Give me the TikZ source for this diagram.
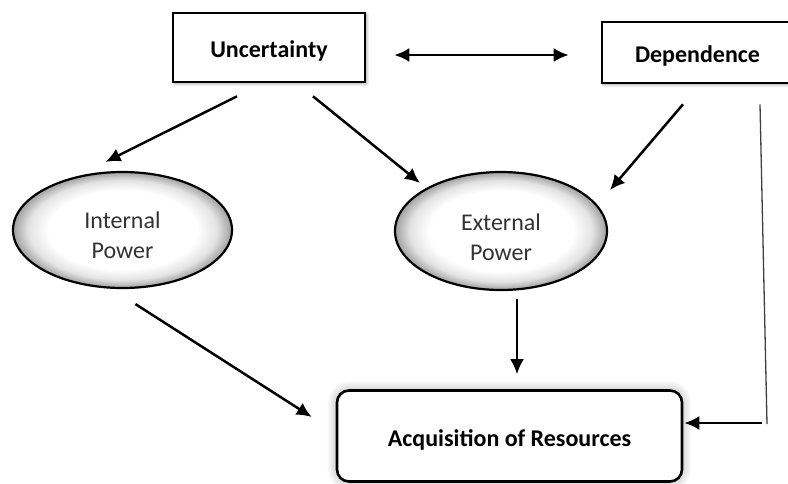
\documentclass[tikz,border=0pt]{standalone}
\usepackage{fontspec}
\setmainfont{Carlito}
\usetikzlibrary{arrows.meta,calc,shadows.blur,shapes.geometric}
\pgfdeclareradialshading{ellshade}{\pgfpoint{0bp}{0bp}}{color(0bp)=(white); color(17bp)=(white); color(21.5bp)=(gray!22); color(25bp)=(gray!75); color(50bp)=(gray!75)}
\tikzset{
  sqbox/.style={draw=black, line width=2.6pt, fill=white, minimum width=#1, font=\fontsize{24}{29}\selectfont\bfseries, inner sep=0pt,
    text height=20pt, text depth=0pt,
    blur shadow={shadow xshift=1.5pt, shadow yshift=-1.5pt, shadow blur steps=6, shadow blur radius=3pt, shadow opacity=40}},
  ell/.style={ellipse, draw=black, line width=2.2pt, shade, shading=ellshade, inner sep=0pt},
  elltext/.style={align=center, text=black!80, font=\fontsize{24}{30}\selectfont, inner sep=0pt},
  arr/.style={line width=2.5pt, -{Latex[length=15pt,width=14pt]}},
  darr/.style={line width=2.5pt, {Latex[length=15pt,width=14pt]}-{Latex[length=15pt,width=14pt]}},
  thin line/.style={line width=1.3pt, draw=black!75}
}
\begin{document}
\begin{tikzpicture}[x=1pt,y=-1pt]
\useasboundingbox (0,0) rectangle (788,483);
\begin{scope}
\clip (0,0) rectangle (788,483);
\node[sqbox=192pt, minimum height=69pt] (unc) at (269,47.5) {Uncertainty};
\node[sqbox=192pt, minimum height=61pt, text width=192pt, align=left] (dep) at (698,52.5) {\hspace*{33pt}Dependence};
\node[ell, minimum width=219pt, minimum height=116pt] (int) at (122.5,230) {};
\node[elltext] (intt) at ([yshift=-5pt]int.center) {Internal\\Power};
\node[ell, minimum width=212pt, minimum height=118pt] (ext) at (501,231) {};
\node[elltext] (extt) at ([yshift=-6pt]ext.center) {External\\Power};
\node[draw=black, line width=2.6pt, rounded corners=12pt, fill=white, minimum width=345pt, minimum height=91pt, inner sep=0pt,
  font=\fontsize{24}{29}\selectfont\bfseries, text height=20pt, text depth=0pt,
  blur shadow={shadow xshift=0pt, shadow yshift=0pt, shadow blur steps=10, shadow blur radius=10pt, shadow opacity=35}] (acq) at (509.5,436) {Acquisition of Resources};
\end{scope}
% connector end points
\coordinate (u1) at ([xshift=-32pt,yshift=-13pt]unc.south);
\coordinate (i1) at ([xshift=-17pt,yshift=9pt]int.north);
\coordinate (u2) at ([xshift=44pt,yshift=-13pt]unc.south);
\coordinate (e1) at ([xshift=-81pt,yshift=48pt]ext.center);
\coordinate (d1) at ([xshift=-15pt,yshift=-20pt]dep.south);
\coordinate (e2) at ([xshift=109pt,yshift=41pt]ext.center);
\coordinate (i2) at ([xshift=13pt,yshift=-15pt]int.south);
\coordinate (a1) at ([xshift=-24pt,yshift=19pt]acq.west);
\coordinate (e3) at ([xshift=16pt,yshift=-8pt]ext.south);
\coordinate (a2) at ([xshift=7.5pt,yshift=15pt]acq.north);
\coordinate (u3) at ([xshift=28pt,yshift=-7.5pt]unc.east);
\coordinate (d2) at ([xshift=-32pt,yshift=-2.5pt]dep.west);
\coordinate (d3) at ([xshift=62pt,yshift=-20pt]dep.south);
\coordinate (bend) at (767,424);
\coordinate (b2) at (762,423);
\coordinate (a3) at ([xshift=1pt,yshift=13pt]acq.east);
\draw[darr] (u3) -- (d2);
\draw[arr] (u1) -- (i1);
\draw[arr] (u2) -- (e1);
\draw[arr] (d1) -- (e2);
\draw[arr] (i2) -- (a1);
\draw[arr] (e3) -- (a2);
\draw[thin line] (d3) -- (bend);
\draw[arr] (b2) -- (a3);
\end{tikzpicture}
\end{document}
